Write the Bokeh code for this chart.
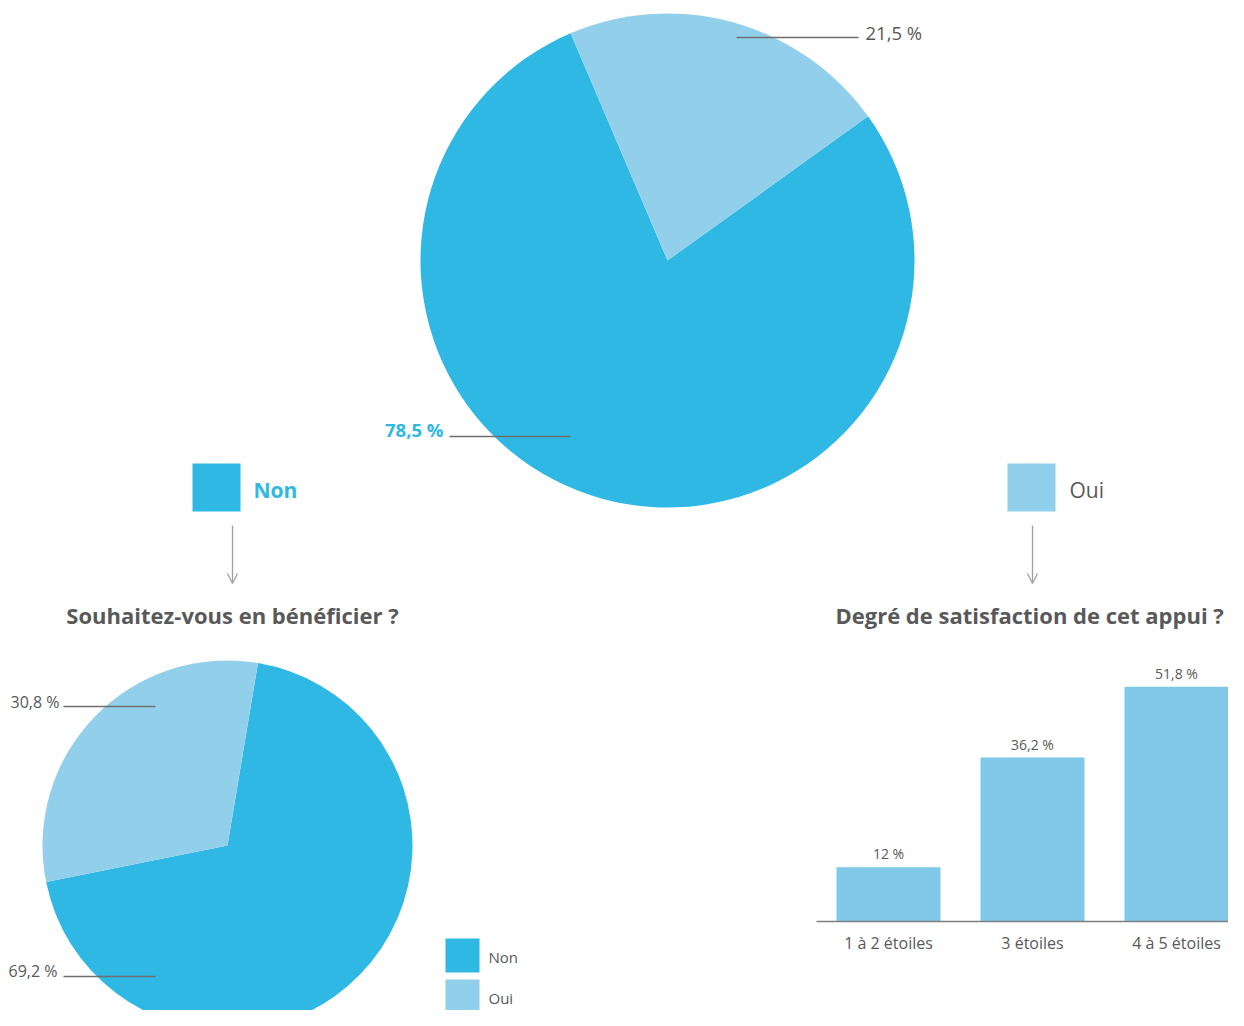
import math
from bokeh.plotting import figure
from bokeh.models import Range1d, Arrow, OpenHead, ColumnDataSource
from bokeh.core.properties import value
from bokeh.embed import file_html
from bokeh.resources import INLINE

# ---------------- data ----------------
top_labels = ["Non", "Oui"]
top_values = [78.5, 21.5]

bottom_labels = ["Non", "Oui"]
bottom_values = [69.2, 30.8]

bar_categories = ["1 à 2 étoiles", "3 étoiles", "4 à 5 étoiles"]
bar_values = [12.0, 36.2, 51.8]

title_left = "Souhaitez-vous en bénéficier ?"
title_right = "Degré de satisfaction de cet appui  ?"

DARK = "#2EB8E3"
LIGHT = "#92CFEB"
BAR = "#80C8E8"
GREY = "#595959"
LINE = "#6E6E6E"
ARROW = "#A0A0A0"
FONT = value("Open Sans")

W, H = 1228, 1010


def pct(v):
    return ("%g" % v).replace(".", ",") + " %"


def wedges(values, start_deg):
    starts, ends = [], []
    a = start_deg
    for v in values:
        starts.append(math.radians(a))
        a += v * 3.6
        ends.append(math.radians(a))
    return starts, ends


Y = lambda py: H - py  # layout helper: screen row -> canvas units

# bar-chart scales (layout): category centre spacing & baseline
BAR_X0, BAR_STEP = 888, 144
BASE, SCALE = 921, 4.53

p = figure(width=W, height=H, x_range=Range1d(0, W), y_range=Range1d(0, H),
           output_backend="svg", toolbar_location=None, min_border=0,
           x_axis_location=None, y_axis_location=None, outline_line_color=None)
p.xgrid.visible = False
p.ygrid.visible = False
p.extra_x_ranges = {"bx": Range1d(-BAR_X0 / BAR_STEP, (W - BAR_X0) / BAR_STEP)}
p.extra_y_ranges = {"by": Range1d(-(H - BASE) / SCALE, BASE / SCALE)}

# ---------------- top pie ----------------
s, e = wedges(top_values, 113.1)
p.wedge(x=[667, 667], y=[Y(260), Y(260)], radius=247, start_angle=s, end_angle=e,
        fill_color=[DARK, LIGHT], line_color=None)

p.segment(x0=[736, 449], y0=[Y(37), Y(436)], x1=[858, 570], y1=[Y(37), Y(436)],
          line_color=LINE, line_width=1.5)
p.text(x=[865], y=[Y(32)], text=[pct(top_values[1])], text_font=FONT,
       text_font_size=value("18.5px"), text_color=GREY, text_align="left", text_baseline="middle")
p.text(x=[443], y=[Y(429)], text=[pct(top_values[0])], text_font=FONT,
       text_font_size=value("18.5px"), text_color=DARK, text_font_style="bold",
       text_align="right", text_baseline="middle")

# legend squares of the top pie
p.rect(x=[216, 1031], y=[Y(487), Y(487)], width=48, height=48,
       fill_color=[DARK, LIGHT], line_color=None)
p.text(x=[253], y=[Y(489)], text=[top_labels[0]], text_font=FONT, text_font_size=value("21px"),
       text_color=DARK, text_font_style="bold", text_align="left", text_baseline="middle")
p.text(x=[1069], y=[Y(489)], text=[top_labels[1]], text_font=FONT, text_font_size=value("21px"),
       text_color=GREY, text_align="left", text_baseline="middle")

# arrows
for ax in (232, 1032):
    p.add_layout(Arrow(end=OpenHead(size=10, line_color=ARROW, line_width=1.3),
                       x_start=ax, y_start=Y(525), x_end=ax, y_end=Y(583),
                       line_color=ARROW, line_width=1.3))

# titles
p.text(x=[232, 1032], y=[Y(614), Y(614)], text=[title_left, title_right], text_font=FONT,
       text_font_size=value("22px"), text_color=GREY, text_font_style="bold",
       text_align="center", text_baseline="middle")

# ---------------- bottom-left pie ----------------
s, e = wedges(bottom_values, 191.4)
p.wedge(x=[227, 227], y=[Y(845), Y(845)], radius=185, start_angle=s, end_angle=e,
        fill_color=[DARK, LIGHT], line_color=None)

p.segment(x0=[63, 63], y0=[Y(706), Y(976)], x1=[155, 155], y1=[Y(706), Y(976)],
          line_color=LINE, line_width=1.5)
p.text(x=[59, 57], y=[Y(701), Y(970)], text=[pct(bottom_values[1]), pct(bottom_values[0])],
       text_font=FONT, text_font_size=value("16px"), text_color=GREY,
       text_align="right", text_baseline="middle")

p.rect(x=[462, 462], y=[Y(955), Y(996)], width=34, height=34,
       fill_color=[DARK, LIGHT], line_color=None)
p.text(x=[488, 488], y=[Y(956), Y(997)], text=bottom_labels, text_font=FONT,
       text_font_size=value("15px"), text_color=GREY, text_align="left", text_baseline="middle")

# ---------------- bar chart (own scales) ----------------
idx = list(range(len(bar_categories)))
src = ColumnDataSource(dict(x=idx, top=bar_values, lab=[pct(v) for v in bar_values],
                            cat=bar_categories, zero=[0] * len(idx)))
p.vbar(x="x", top="top", bottom=0, width=0.722, source=src, fill_color=BAR, line_color=None,
       x_range_name="bx", y_range_name="by")
p.text(x="x", y="top", text="lab", source=src, y_offset=-4, text_font=FONT,
       text_font_size=value("14px"), text_color=GREY, text_align="center", text_baseline="bottom",
       x_range_name="bx", y_range_name="by")
# baseline (category axis)
p.segment(x0=[-0.5], y0=[0], x1=[2.5], y1=[0], line_color="#7F7F7F", line_width=1.5,
          x_range_name="bx", y_range_name="by")
p.text(x="x", y="zero", text="cat", source=src, y_offset=21, text_font=FONT,
       text_font_size=value("16px"), text_color=GREY, text_align="center", text_baseline="middle",
       x_range_name="bx", y_range_name="by")

open("out.html", "w").write(file_html(p, INLINE))
